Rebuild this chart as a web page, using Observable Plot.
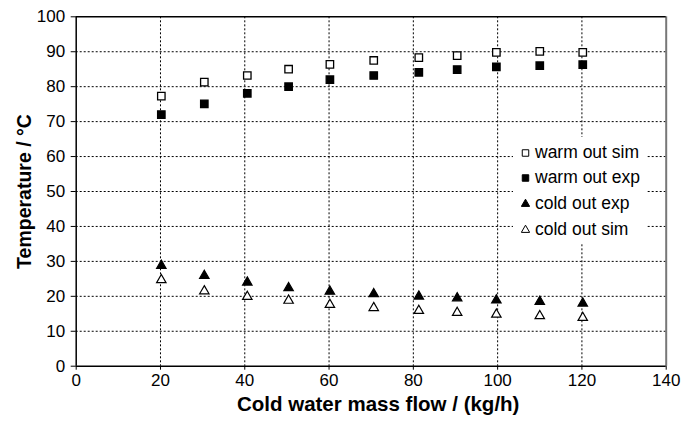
<!DOCTYPE html>
<html>
<head>
<meta charset="utf-8">
<script src="https://cdn.jsdelivr.net/npm/d3@7"></script>
<script src="https://cdn.jsdelivr.net/npm/@observablehq/plot@0.6"></script>
<style>
  body { margin: 0; background: #fff; font-family: "Liberation Sans", Arial, sans-serif; }
  #wrap { position: relative; width: 694px; height: 425px; }
  #legend { position: absolute; left: 513px; top: 137px; width: 134px; height: 106px; background: #fff;
            font-size: 17.5px; color: #000; }
  #legend .row { position: absolute; left: 0; height: 20px; display: flex; align-items: center; }
  #legend svg { margin-left: 8px; margin-right: 5px; }
</style>
</head>
<body>
<div id="wrap"><div id="legend"></div></div>
<script>
const flow    = [20.2, 30.4, 40.6, 50.4, 60.2, 70.6, 81.3, 90.4, 99.7, 110, 120.2];
const warmSim = [77.3, 81.3, 83.2, 85.0, 86.4, 87.5, 88.3, 88.9, 89.8, 90.1, 89.8];
const warmExp = [72.0, 75.1, 78.1, 80.0, 82.0, 83.2, 84.1, 84.9, 85.7, 86.0, 86.3];
const coldExp = [28.8, 25.9, 24.0, 22.4, 21.4, 20.7, 20.0, 19.5, 18.9, 18.5, 18.0];
const coldSim = [24.7, 21.5, 19.9, 18.8, 17.6, 16.7, 15.9, 15.3, 14.8, 14.4, 13.9];
const xTicks = [0, 20, 40, 60, 80, 100, 120, 140];
const yTicks = [0, 10, 20, 30, 40, 50, 60, 70, 80, 90, 100];
const xTitle = "Cold water mass flow / (kg/h)";
const yTitle = "Temperature / °C";

const series = [
  {name: "warm out sim", values: warmSim, symbol: "square", fill: "white"},
  {name: "warm out exp", values: warmExp, symbol: "square", fill: "black"},
  {name: "cold out exp", values: coldExp, symbol: "triangle", fill: "black"},
  {name: "cold out sim", values: coldSim, symbol: "triangle", fill: "white"}
];
const rows = series.flatMap(s => flow.map((f, i) => ({flow: f, temp: s.values[i], name: s.name, symbol: s.symbol, fill: s.fill})));

const font = "Liberation Sans, Arial, sans-serif";
const chart = Plot.plot({
  width: 694, height: 425,
  marginLeft: 75.7, marginRight: 28.3, marginTop: 16.3, marginBottom: 59.3,
  style: {fontFamily: font, fontSize: "17px", color: "black", background: "white"},
  x: {domain: [0, 140], ticks: xTicks},
  y: {domain: [0, 100], ticks: yTicks},
  marks: [
    Plot.gridX(xTicks.filter(d => d > 0 && d < 140), {stroke: "black", strokeOpacity: 1, strokeDasharray: "2,2", strokeWidth: 1}),
    Plot.gridY(yTicks.filter(d => d > 0 && d < 100), {stroke: "black", strokeOpacity: 1, strokeDasharray: "2,2", strokeWidth: 1}),
    Plot.ruleX([140], {stroke: "#777", strokeWidth: 2}),
    Plot.ruleY([100], {stroke: "black", strokeWidth: 1.5}),
    Plot.ruleX([0], {stroke: "black", strokeWidth: 1.5}),
    Plot.ruleY([0], {stroke: "black", strokeWidth: 1.5}),
    Plot.axisX({ticks: xTicks, tickSize: 4, tickPadding: 4, label: null, fontSize: 17, tickFormat: d => d}),
    Plot.axisY({ticks: yTicks, tickSize: 5, tickPadding: 6, label: null, fontSize: 17, tickFormat: d => d}),
    Plot.text([xTitle], {frameAnchor: "bottom", dx: 7, dy: 38, textAnchor: "middle", lineAnchor: "middle", fontSize: 20.5, fontWeight: "bold"}),
    Plot.text([yTitle], {frameAnchor: "left", dx: -51, rotate: -90, textAnchor: "middle", lineAnchor: "middle", fontSize: 19.5, fontWeight: "bold"}),
    Plot.dot(rows.filter(d => d.symbol === "square"), {x: "flow", y: "temp", symbol: "symbol", fill: "fill", stroke: "black", strokeWidth: 1.3, r: 4.2}),
    Plot.dot(rows.filter(d => d.symbol === "triangle"), {x: "flow", y: "temp", symbol: "symbol", fill: "fill", stroke: "black", strokeWidth: 1.2, r: 3.5})
  ]
});
document.getElementById("wrap").prepend(chart);

// Legend
const legend = d3.select("#legend");
series.forEach((s, i) => {
  const row = legend.append("div").attr("class", "row").style("top", (5 + i * 25.7) + "px");
  const svg = row.append("svg").attr("width", 9).attr("height", 9);
  const sym = s.symbol === "square" ? d3.symbolSquare : d3.symbolTriangle;
  svg.append("path").attr("transform", "translate(4.5,5)")
    .attr("d", d3.symbol(sym, s.symbol === "square" ? 42 : 30)())
    .attr("fill", s.fill).attr("stroke", "black").attr("stroke-width", 1);
  row.append("span").text(s.name);
});
</script>
</body>
</html>
